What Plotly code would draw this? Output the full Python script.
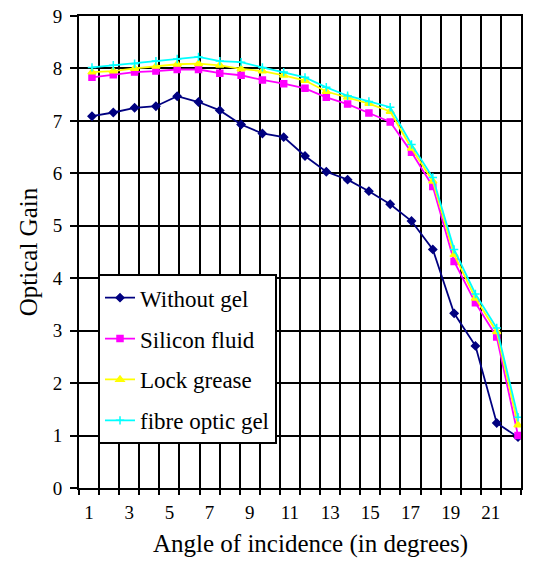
import plotly.graph_objects as go

# Data (angle index 1..21)
angles = list(range(1, 22))
without_gel = [7.09, 7.16, 7.25, 7.28, 7.47, 7.36, 7.20, 6.93, 6.76, 6.69, 6.33,
               6.03, 5.88, 5.66, 5.41, 5.09, 4.55, 3.33, 2.71, 1.24, 0.97]
silicon_fluid = [7.83, 7.88, 7.93, 7.95, 7.98, 7.98, 7.91, 7.87, 7.78, 7.71, 7.62,
                 7.45, 7.32, 7.15, 6.98, 6.40, 5.75, 4.32, 3.53, 2.88, 1.00]
lock_grease = [7.93, 7.95, 8.00, 8.04, 8.08, 8.09, 8.06, 7.99, 7.95, 7.87, 7.77,
               7.56, 7.45, 7.33, 7.18, 6.48, 5.85, 4.45, 3.62, 2.98, 1.20]
fibre_optic_gel = [8.02, 8.06, 8.09, 8.14, 8.18, 8.22, 8.14, 8.12, 8.02, 7.93, 7.83,
                   7.64, 7.48, 7.37, 7.26, 6.55, 5.92, 4.55, 3.70, 3.05, 1.35]

tick_values = [1, 3, 5, 7, 9, 11, 13, 15, 17, 19, 21]
tick_labels = [str(v) for v in tick_values]
y_ticks = list(range(0, 10))
x_title = "Angle of incidence (in degrees)"
y_title = "Optical Gain"

FONT = "Liberation Serif, Times New Roman, serif"

series = [
    ("Without gel", without_gel, "#000080", "diamond", 6),
    ("Silicon fluid", silicon_fluid, "#FF00FF", "square", 6),
    ("Lock grease", lock_grease, "#FFFF00", "triangle-up", 7),
    ("fibre optic gel", fibre_optic_gel, "#00FFFF", "cross-thin-open", 6),
]

fig = go.Figure()
# empty trace to anchor the category grid axis
fig.add_trace(go.Scatter(x=[], y=[], xaxis="x", yaxis="y", showlegend=False,
                         hoverinfo="skip"))

for i, (name, vals, color, sym, size) in enumerate(series):
    fig.add_trace(go.Scatter(
        x=angles, y=vals, name=name, mode="lines+markers",
        xaxis="x2", yaxis="y", legendgroup=f"g{i}",
        line=dict(color=color, width=1.8),
        marker=dict(symbol=sym, size=size, color=color,
                    line=dict(color=color, width=1.5)),
    ))

fig.update_layout(
    width=547, height=561,
    margin=dict(l=79, r=26, t=16, b=73, autoexpand=False),
    paper_bgcolor="white", plot_bgcolor="white",
    font=dict(family=FONT, size=19, color="black"),
    showlegend=True,
    legend=dict(
        x=0.043, y=0.453, xanchor="left", yanchor="top",
        bgcolor="white", bordercolor="black", borderwidth=2,
        font=dict(family=FONT, size=23),
        tracegroupgap=8,
    ),
    xaxis=dict(
        range=[0.5, 22.5], automargin=False, ticklabeloverflow="allow",
        tickmode="array", tickvals=tick_values, ticktext=tick_labels,
        showgrid=False, ticks="", ticklabelstandoff=6,
        showline=True, linecolor="black", linewidth=2, mirror=True,
        zeroline=False,
        minor=dict(tickmode="array",
                   tickvals=[v + 0.5 for v in range(0, 23)],
                   showgrid=True, gridcolor="black", gridwidth=2,
                   ticks="outside", ticklen=5, tickcolor="black", tickwidth=2),
    ),
    xaxis2=dict(
        range=[0.39, 21.14], overlaying="x", anchor="y", automargin=False,
        visible=False, showgrid=False, zeroline=False,
    ),
    yaxis=dict(
        range=[0, 9], tickmode="array", tickvals=y_ticks, automargin=False,
        ticklabeloverflow="allow",
        showgrid=True, gridcolor="black", gridwidth=2,
        ticks="outside", ticklen=7, tickcolor="black", tickwidth=2,
        ticklabelstandoff=4,
        showline=True, linecolor="black", linewidth=2, mirror=True,
        zeroline=False,
        title=dict(text=y_title, font=dict(family=FONT, size=25),
                   standoff=8),
    ),
    annotations=[dict(
        text=x_title, xref="paper", yref="paper", x=0.523, y=-0.118,
        xanchor="center", yanchor="middle", showarrow=False,
        font=dict(family=FONT, size=25, color="black"),
    )],
)

fig.write_html("out.html",
               config={"displayModeBar": False},
               post_script="document.body.style.margin='0';")
